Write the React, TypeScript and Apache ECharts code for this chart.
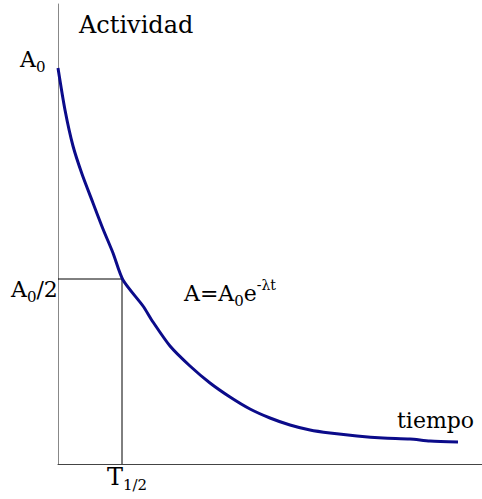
import React, { useEffect, useRef } from "react";
import * as echarts from "echarts";

// Decay curve (x: time units, y: activity units)
const curveT = [0, 7, 15, 24, 35, 45, 55, 65, 85, 95, 112, 132, 152, 172, 192, 212, 232, 252, 272, 299, 325, 352, 372, 400];
const curveA = [396, 354, 318, 290, 261, 235, 211, 184, 158, 142, 118, 98, 81, 67, 55, 46, 39, 34, 31, 28, 26, 25, 23, 22];
// Half-life guide: A0/2 level and T1/2 time
const halfLevel = 185;
const halfTime = 64;
const xMax = 424;
const yMax = 460;

const SERIF = "DejaVu Serif";

export default function App() {
  const ref = useRef<HTMLDivElement>(null);
  useEffect(() => {
    if (!ref.current) return;
    const chart = echarts.init(ref.current, undefined, { renderer: "svg" });
    const curve = curveT.map((t, i) => [t, curveA[i]]);
    const guide = [
      [0, halfLevel],
      [halfTime, halfLevel],
      [halfTime, 0],
    ];
    const big = { fontSize: 22, fontFamily: SERIF, color: "#000", lineHeight: 30, verticalAlign: "middle" };
    const sub = { fontSize: 15, fontFamily: SERIF, color: "#000", lineHeight: 6, verticalAlign: "bottom" };
    const sup = { fontSize: 14, fontFamily: SERIF, color: "#000", lineHeight: 16, verticalAlign: "top" };
    chart.setOption({
      animation: false,
      backgroundColor: "#fff",
      grid: { left: 58, right: 0, top: 4, bottom: 35 },
      xAxis: {
        type: "value",
        min: 0,
        max: xMax,
        axisLine: { show: true, lineStyle: { color: "#444", width: 1 } },
        axisTick: { show: false },
        axisLabel: { show: false },
        splitLine: { show: false },
      },
      yAxis: {
        type: "value",
        min: 0,
        max: yMax,
        axisLine: { show: true, lineStyle: { color: "#888", width: 1 } },
        axisTick: { show: false },
        axisLabel: { show: false },
        splitLine: { show: false },
      },
      series: [
        {
          type: "line",
          data: guide,
          showSymbol: false,
          lineStyle: { color: "#000", width: 1 },
          silent: true,
        },
        {
          type: "line",
          data: curve,
          smooth: 0.25,
          showSymbol: false,
          lineStyle: { color: "#0b0b8a", width: 3 },
          silent: true,
        },
      ],
      graphic: [
        {
          type: "text",
          left: 79,
          top: 13,
          style: { text: "Actividad", fontSize: 24, fontFamily: SERIF, fill: "#000" },
        },
        {
          type: "text",
          left: 20,
          top: 48,
          style: { text: "{m|A}{s|0}", rich: { m: big, s: sub } },
        },
        {
          type: "text",
          left: 11,
          top: 278,
          style: { text: "{m|A}{s|0}{m|/2}", rich: { m: big, s: sub } },
        },
        {
          type: "text",
          left: 184,
          top: 278,
          style: { text: "{m|A=A}{s|0}{m|e}{p|-λt}", rich: { m: big, s: sub, p: sup } },
        },
        {
          type: "text",
          left: 107,
          top: 465,
          style: { text: "{m|T}{s|1/2}", rich: { m: { ...big, fontSize: 24 }, s: sub } },
        },
        {
          type: "text",
          left: 397,
          top: 409,
          style: { text: "tiempo", fontSize: 22, fontFamily: SERIF, fill: "#000" },
        },
      ],
    });
    return () => chart.dispose();
  }, []);
  return (
    <div
      ref={ref}
      style={{ position: "fixed", left: 0, top: 0, width: 482, height: 499, background: "#fff" }}
    />
  );
}
